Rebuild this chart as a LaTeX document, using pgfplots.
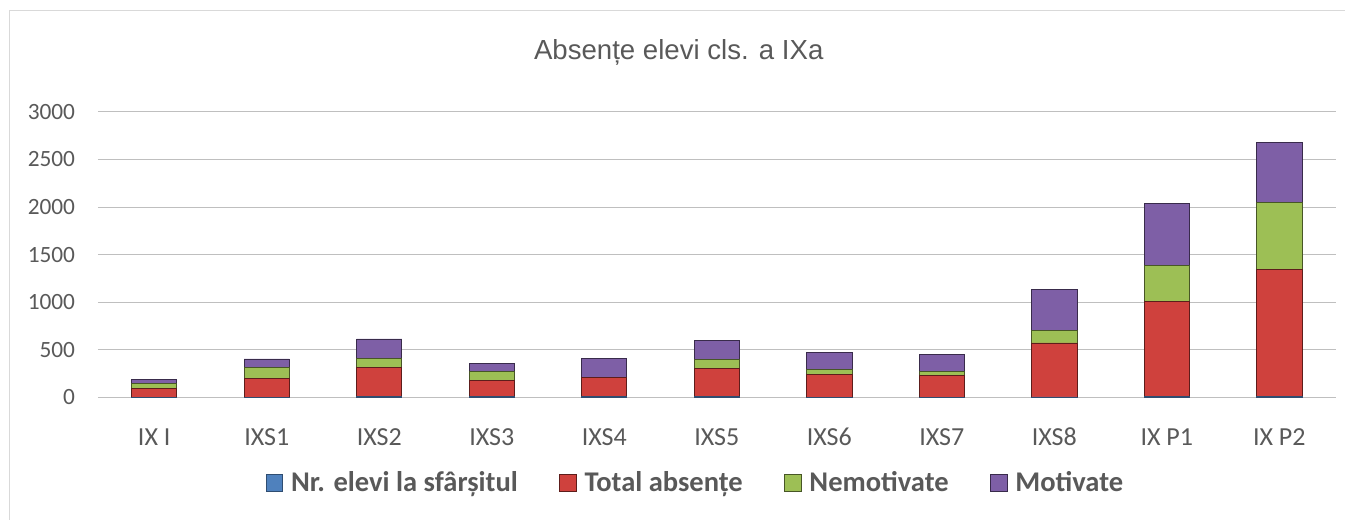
\documentclass[border=0pt]{standalone}
\usepackage{pgfplots}
\pgfplotsset{compat=1.18}
\usepackage{fontspec}
\setmainfont{Carlito}
\newfontfamily\titlefont{Liberation Sans}
\definecolor{txt}{HTML}{595959}
\definecolor{grid}{HTML}{D9D9D9}
\definecolor{cblue}{HTML}{4F81BD}
\definecolor{cred}{HTML}{CF413D}
\definecolor{cgreen}{HTML}{9DBF55}
\definecolor{cpurple}{HTML}{7E5FA6}
\pgfplotstableread{
x blue red green purple
0 2 89 50 42
1 2 199 116 85
2 10 307 91 205
3 10 170 95 77
4 9 198 2 196
5 10 292 95 198
6 2 241 53 175
7 2 231 42 172
8 3 568 133 427
9 8 1003 377 648
10 5 1340 706 626
}\datatable
\begin{document}
\begin{tikzpicture}
\path (0pt,0pt) rectangle (1008.75pt,390pt);
\draw[grid, line width=0.75pt] (7.5pt,0pt) -- (7.5pt,381.75pt) -- (1008.75pt,381.75pt);
\node[font=\titlefont\fontsize{20.7}{24}\selectfont, text=txt, anchor=base] at (509.25pt,345.5pt) {Absențe elevi cls. a IXa};
\begin{axis}[
  at={(73.5pt,92pt)}, anchor=south west,
  scale only axis, width=928.5pt, height=214pt,
  ybar stacked, bar width=34pt,
  xmin=-0.5, xmax=10.5, ymin=0, ymax=3000,
  xtick=data,
  xticklabels={IX I,IXS1,IXS2,IXS3,IXS4,IXS5,IXS6,IXS7,IXS8,IX P1,IX P2},
  ytick={0,500,...,3000},
  axis line style={draw=none},
  xmajorgrids=false,
  ymajorgrids=true,
  grid style={grid, line width=0.75pt},
  major tick length=0pt,
  xtick style={draw=none}, ytick style={draw=none},
  xticklabel style={font=\fontsize{19.5}{22}\selectfont, text=txt, anchor=base, yshift=-36.5pt},
  yticklabel style={font=\fontsize{17.5}{20}\selectfont, text=txt, anchor=east, inner sep=0pt, xshift=-17pt},
  /pgf/number format/assume math mode=true,
  /pgf/number format/1000 sep={},
  legend columns=4,
  legend style={at={(0.483,-0.300)}, anchor=center, draw=none, fill=none,
    font=\bfseries\fontsize{21.4}{24}\selectfont, text=txt,
    /tikz/every odd column/.append style={column sep=4pt},
    /tikz/every even column/.append style={column sep=29pt}},
  legend image code/.code={\draw[#1] (0pt,-6.3pt) rectangle (12.5pt,6.3pt);},
  every axis plot/.append style={line width=0.6pt},
]
\addplot[fill=cblue, draw=cblue!60!black] table[x=x,y=blue]{\datatable};
\addplot[fill=cred, draw=cred!45!black] table[x=x,y=red]{\datatable};
\addplot[fill=cgreen, draw=cgreen!45!black] table[x=x,y=green]{\datatable};
\addplot[fill=cpurple, draw=cpurple!45!black] table[x=x,y=purple]{\datatable};
\legend{Nr. elevi la sfârșitul,Total absențe,Nemotivate,Motivate}
\end{axis}
\end{tikzpicture}
\end{document}
